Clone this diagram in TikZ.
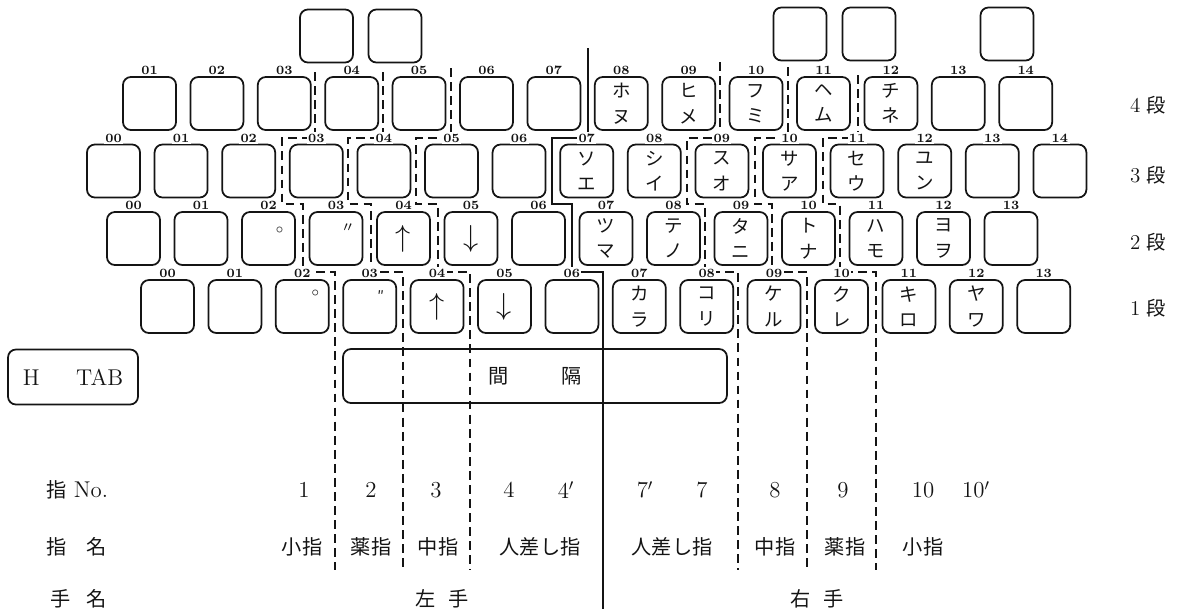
\documentclass[tikz,border=0pt]{standalone}
\usepackage{fontspec}
\newfontfamily\cjk{Noto Sans CJK JP}
\definecolor{ink}{HTML}{141414}

\begin{document}
\begin{tikzpicture}[x=0.02cm,y=-0.02cm,text=ink,
  keycap/.style={draw=ink,line width=1pt,rounded corners=4.5pt,minimum width=1.06cm,minimum height=1.06cm,inner sep=0pt},
  keyno/.style={font=\bfseries\fontsize{7.2}{7.2}\selectfont,fill=white,inner sep=0.8pt},
  kana/.style={font=\cjk\fontsize{10.5}{14.5}\selectfont,align=center,inner sep=0pt},
  arrowch/.style={font=\fontsize{16}{16}\selectfont},
  finger/.style={draw=ink,line width=1pt,dash pattern=on 5pt off 3pt},
  handline/.style={draw=ink,line width=1pt},
  danlbl/.style={font=\fontsize{12}{12}\selectfont},
  fnum/.style={font=\fontsize{13}{13}\selectfont},
  fname/.style={font=\cjk\fontsize{11.5}{11.5}\selectfont}]
  \useasboundingbox (0,0) rectangle (1183,609);

  % finger boundaries (dashed) and hand boundary (solid)
  \foreach \a/\t/\b/\c/\d in {315/72/282/303/335,383/72/348/371/403,451/68/416/438/470,
                              720/62/687/705/738,788/67/755/772/807,858/75/823/840/876}
    \draw[finger] (\a,\t) |- (\b,138) |- (\c,204) |- (\d,272) -- (\d,570);
  \draw[handline] (588,48) |- (552,138) |- (572,204) |- (603,272) -- (603,609);

  % keys and their numbers
  \foreach \x/\y [count=\n] in {326.5/36,395/36,800/34,869/34,1007/34}
    \node[keycap] (top\n) at (\x,\y) {};
  \foreach \i in {1,...,14} {
    \node[keycap] (k4-\i) at (82.1+67.4*\i,103.5) {};
    \node[keyno] (n4-\i) at (82.1+67.4*\i,70) {\ifnum\i<10 0\fi\i};
  }
  \foreach \i in {0,...,14} {
    \node[keycap] (k3-\i) at (113.5+67.6*\i,171) {};
    \node[keyno] (n3-\i) at (113.5+67.6*\i,138) {\ifnum\i<10 0\fi\i};
  }
  \foreach \i in {0,...,13} {
    \node[keycap] (k2-\i) at (133.5+67.5*\i,238.5) {};
    \node[keyno] (n2-\i) at (133.5+67.5*\i,205) {\ifnum\i<10 0\fi\i};
    \node[keycap] (k1-\i) at (167.5+67.4*\i,306.5) {};
    \node[keyno] (n1-\i) at (167.5+67.4*\i,273) {\ifnum\i<10 0\fi\i};
  }

  % key tops
  \foreach \r/\i/\a/\b in {4/8/ホ/ヌ,4/9/ヒ/メ,4/10/フ/ミ,4/11/ヘ/ム,4/12/チ/ネ,
      3/7/ソ/エ,3/8/シ/イ,3/9/ス/オ,3/10/サ/ア,3/11/セ/ウ,3/12/ユ/ン,
      2/7/ツ/マ,2/8/テ/ノ,2/9/タ/ニ,2/10/ト/ナ,2/11/ハ/モ,2/12/ヨ/ヲ,
      1/7/カ/ラ,1/8/コ/リ,1/9/ケ/ル,1/10/ク/レ,1/11/キ/ロ,1/12/ヤ/ワ}
    \node[kana] (t\r-\i) at (k\r-\i) {\a\\\b};
  \foreach \r in {1,2} {
    \node[arrowch] (up\r) at (k\r-4) {$\uparrow$};
    \node[arrowch] (dn\r) at (k\r-5) {$\downarrow$};
  }
  \node[font=\fontsize{8}{8}\selectfont] (o2) at ([xshift=0.22cm,yshift=0.17cm]k2-2.center) {$\circ$};
  \node[font=\fontsize{8}{8}\selectfont] (o1) at ([xshift=0.26cm,yshift=0.27cm]k1-2.center) {$\circ$};
  \node[font=\cjk\fontsize{8}{8}\selectfont] (q2) at ([xshift=0.24cm,yshift=0.2cm]k2-3.center) {〃};
  \node[font=\cjk\fontsize{8}{8}\selectfont] (q1) at ([xshift=0.22cm,yshift=0.2cm]k1-3.center) {″};

  % rows
  \foreach \r/\y in {4/105,3/175,2/242,1/308}
    \node[danlbl] (dan\r) at (1148,\y) {\r\hspace{0.3em}{\cjk\fontsize{11}{11}\selectfont 段}};

  \node[keycap,minimum width=2.6cm,minimum height=1.1cm,font=\fontsize{13}{13}\selectfont] (htab) at (73,377) {H\hspace{1.6em}TAB};
  \node[keycap,minimum width=7.68cm,minimum height=1.08cm,font=\cjk\fontsize{11.5}{11.5}\selectfont] (space) at (535,376) {間\hspace{2.6em}隔};

  % finger table
  \node[fnum,anchor=west] (hno) at (40,490) {{\cjk\fontsize{11.5}{11.5}\selectfont 指} No.};
  \node[fname,anchor=west] (hname) at (40,547) {指\hspace{1em}名};
  \node[fname,anchor=west] (hhand) at (44,599) {手\hspace{0.8em}名};
  \foreach \x/\t [count=\n] in {304/1,371/2,436/3,509/4,566/4$'$,645/7$'$,702/7,775/8,843/9,923/10,976/10$'$}
    \node[fnum] (no\n) at (\x,490) {\t};
  \foreach \x/\t [count=\n] in {302/小指,371/薬指,438/中指,540/人差し指,672/人差し指,775/中指,845/薬指,923/小指}
    \node[fname] (fn\n) at (\x,547) {\t};
  \node[fname] (left) at (442,599) {左\hspace{0.6em}手};
  \node[fname] (right) at (817,599) {右\hspace{0.6em}手};
\end{tikzpicture}
\end{document}
